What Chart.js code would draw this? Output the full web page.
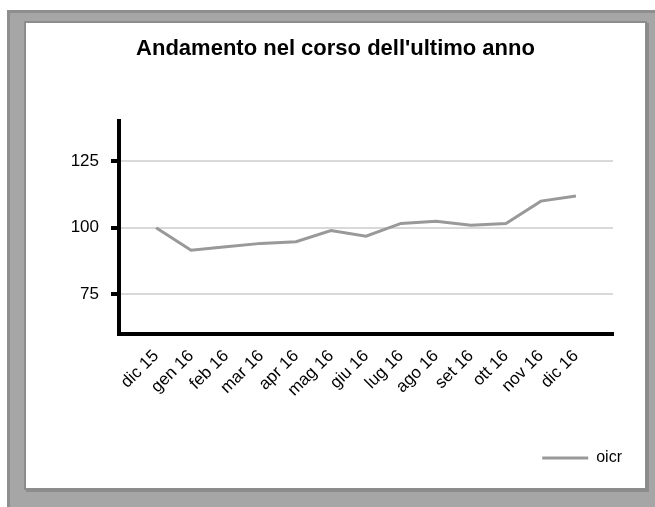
<!DOCTYPE html>
<html>
<head>
<meta charset="utf-8">
<script src="https://cdn.jsdelivr.net/npm/chart.js@4"></script>
<style>
  body { margin: 0; background: #fff; }
  .frame {
    position: absolute; left: 7px; top: 10px; width: 645px; height: 494px;
    background: #a6a6a6; border-top: 3px solid #8e8e8e; border-left: 3px solid #8e8e8e;
  }
  .card {
    position: absolute; left: 24px; top: 21px; width: 619px; height: 465px;
    background: #fff; border: 2px solid #8c8c8c;
    box-shadow: 2px 2px 0 #8c8c8c;
  }
  #chart { position: absolute; left: 26px; top: 23px; }
</style>
</head>
<body>
<div class="frame"></div>
<div class="card"></div>
<canvas id="chart" width="619" height="465"></canvas>
<script>
// months (dic 15 .. dic 16)
const months = ["dic 15", "gen 16", "feb 16", "mar 16", "apr 16", "mag 16", "giu 16",
                "lug 16", "ago 16", "set 16", "ott 16", "nov 16", "dic 16"];
const oicr = [100, 91.5, 92.8, 94.1, 94.7, 98.9, 96.8, 101.6, 102.4, 100.9, 101.6, 110, 111.9];
const yTicks = [75, 100, 125];

const tickFont = { family: "Liberation Sans, Arial", size: 17 };

onload = () => {
    new Chart(document.getElementById('chart'), {
        type: 'line',
        data: {
            datasets: [{
                label: 'oicr',
                data: oicr.map((v, i) => ({ x: i, y: v })),
                borderColor: '#999999',
                backgroundColor: '#999999',
                borderWidth: 3,
                pointRadius: 0,
                tension: 0
            }]
        },
        options: {
            responsive: false,
            animation: false,
            layout: { padding: { left: 13, right: 13, top: 0, bottom: 12 } },
            plugins: {
                title: {
                    display: true,
                    text: "Andamento nel corso dell'ultimo anno",
                    color: '#000',
                    font: { family: "Liberation Sans, Arial", size: 22, weight: 'bold' },
                    padding: { top: 13, bottom: 59 }
                },
                legend: {
                    position: 'bottom',
                    align: 'end',
                    labels: {
                        usePointStyle: true,
                        pointStyle: 'line',
                        pointStyleWidth: 46,
                        color: '#000',
                        font: { family: "Liberation Sans, Arial", size: 16 },
                        padding: 10
                    }
                },
                tooltip: { enabled: false }
            },
            scales: {
                x: {
                    type: 'linear',
                    min: -1.06,
                    max: months.length - 1 + 1.06,
                    afterBuildTicks: s => { s.ticks = months.map((_, i) => ({ value: i })); },
                    afterFit: s => { s.height = 106; },
                    grid: { display: false, drawTicks: false },
                    border: { color: '#000', width: 4 },
                    ticks: {
                        autoSkip: false,
                        minRotation: 45,
                        maxRotation: 45,
                        padding: 12,
                        color: '#000',
                        font: tickFont,
                        callback: v => months[v]
                    }
                },
                y: {
                    min: 60,
                    max: 140,
                    afterBuildTicks: s => { s.ticks = yTicks.map(v => ({ value: v })); },
                    afterFit: s => { s.width = 80; },
                    grid: { color: '#d9d9d9', lineWidth: 2, tickLength: 8, tickColor: '#000', tickWidth: 4 },
                    border: { color: '#000', width: 4 },
                    ticks: { padding: 12, color: '#000', font: tickFont }
                },
                y2: {
                    position: 'right',
                    afterFit: s => { s.width = 19; },
                    grid: { display: false, drawTicks: false },
                    border: { display: false },
                    ticks: { display: false }
                }
            }
        }
    });
};
</script>
</body>
</html>
